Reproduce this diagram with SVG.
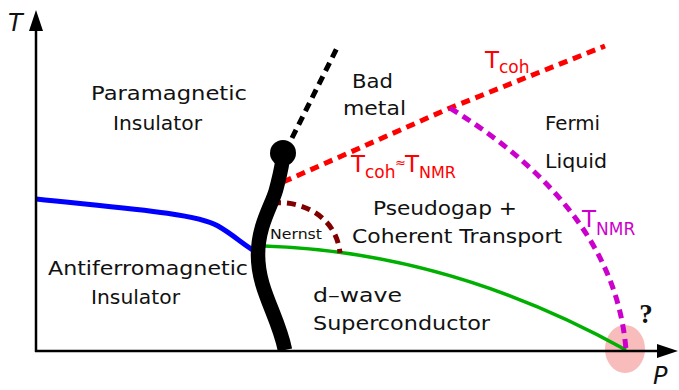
<svg xmlns="http://www.w3.org/2000/svg" width="679" height="390" viewBox="0 0 679 390">
<style>
.lbl{font-family:"DejaVu Sans","Liberation Sans",sans-serif;font-size:20px;fill:#111}
.ax{font-family:"DejaVu Sans","Liberation Sans",sans-serif;font-size:24px;font-style:italic;fill:#111}
.dash{fill:none;stroke-width:5;stroke-dasharray:9 6}
.red{font-family:"DejaVu Sans","Liberation Sans",sans-serif;fill:#ff0000}
.mag{font-family:"DejaVu Sans","Liberation Sans",sans-serif;fill:#cc00cc}
</style>
<rect width="679" height="390" fill="#fff"/>
<g id="qcp-marker">
<ellipse cx="625" cy="349" rx="20" ry="24" fill="#f9bcbc"/>
<text x="646" y="323" text-anchor="middle" style="font-family:'Liberation Serif',serif;font-weight:bold;font-size:27px;fill:#111">?</text>
</g>
<g id="connectors">
<path d="M36 199 C120 208 195 213 218 226 C232 234 243 244 253 250" fill="none" stroke="#0000ff" stroke-width="5"/>
<path d="M264 246 Q450 252 626 350" fill="none" stroke="#00b000" stroke-width="3.5"/>
<path class="dash" d="M283 182 L450 108 L605 46" stroke="#ff0000"/>
<path class="dash" d="M450 108 Q615 210 626 350" stroke="#cc00cc"/>
<path class="dash" d="M272 203 C300 200 336 215 340 253" stroke="#800000"/>
<path class="dash" d="M292 138 L338 46" stroke="#000" stroke-dasharray="8 6"/>
<path d="M285 350 C278 315 258 290 258 255 C258 225 272 205 276 190 C279 178 283 165 283 153" fill="none" stroke="#000" stroke-width="14.5"/>
<circle cx="283" cy="153" r="13" fill="#000"/>
</g>
<g id="axes">
<line x1="36" y1="352" x2="36" y2="28" stroke="#000" stroke-width="2.5"/>
<line x1="35" y1="351" x2="660" y2="351" stroke="#000" stroke-width="2.5"/>
<polygon points="36,10 29,31 43,31" fill="#000"/>
<polygon points="678,351 657,344 657,358" fill="#000"/>
<text class="ax" x="8" y="31">T</text>
<text class="ax" x="653" y="384">P</text>
</g>
<g id="paramagnetic-insulator">
<text class="lbl" x="91" y="100" textLength="156" lengthAdjust="spacingAndGlyphs">Paramagnetic</text>
<text class="lbl" x="113" y="130" textLength="89" lengthAdjust="spacingAndGlyphs">Insulator</text>
</g>
<g id="bad-metal">
<text class="lbl" x="352" y="88" textLength="41" lengthAdjust="spacingAndGlyphs">Bad</text>
<text class="lbl" x="343" y="115" textLength="63" lengthAdjust="spacingAndGlyphs">metal</text>
</g>
<g id="fermi-liquid">
<text class="lbl" x="545" y="130" textLength="55" lengthAdjust="spacingAndGlyphs">Fermi</text>
<text class="lbl" x="545" y="168" textLength="62" lengthAdjust="spacingAndGlyphs">Liquid</text>
</g>
<g id="pseudogap">
<text class="lbl" x="373" y="215" textLength="144" lengthAdjust="spacingAndGlyphs">Pseudogap +</text>
<text class="lbl" x="352" y="243" textLength="210" lengthAdjust="spacingAndGlyphs">Coherent Transport</text>
</g>
<g id="afm-insulator">
<text class="lbl" x="48" y="275" textLength="200" lengthAdjust="spacingAndGlyphs">Antiferromagnetic</text>
<text class="lbl" x="91" y="304" textLength="89" lengthAdjust="spacingAndGlyphs">Insulator</text>
</g>
<g id="superconductor">
<text class="lbl" x="313" y="302" textLength="89" lengthAdjust="spacingAndGlyphs">d–wave</text>
<text class="lbl" x="313" y="330" textLength="177" lengthAdjust="spacingAndGlyphs">Superconductor</text>
</g>
<g id="nernst">
<text class="lbl" x="270" y="239" style="font-size:14px" textLength="52" lengthAdjust="spacingAndGlyphs">Nernst</text>
</g>
<g id="tcoh-label">
<text class="red"><tspan x="485" y="68" font-size="23">T</tspan><tspan x="499" y="73" font-size="17">coh</tspan></text>
</g>
<g id="tcoh-tnmr-label">
<text class="red"><tspan x="351" y="172" font-size="23">T</tspan><tspan x="365" y="178" font-size="17">coh</tspan><tspan x="395" y="167" font-size="13">≈</tspan><tspan x="405" y="172" font-size="23">T</tspan><tspan x="419" y="178" font-size="16">NMR</tspan></text>
</g>
<g id="tnmr-label">
<text class="mag"><tspan x="582" y="227" font-size="23">T</tspan><tspan x="596" y="235" font-size="17">NMR</tspan></text>
</g>
</svg>
